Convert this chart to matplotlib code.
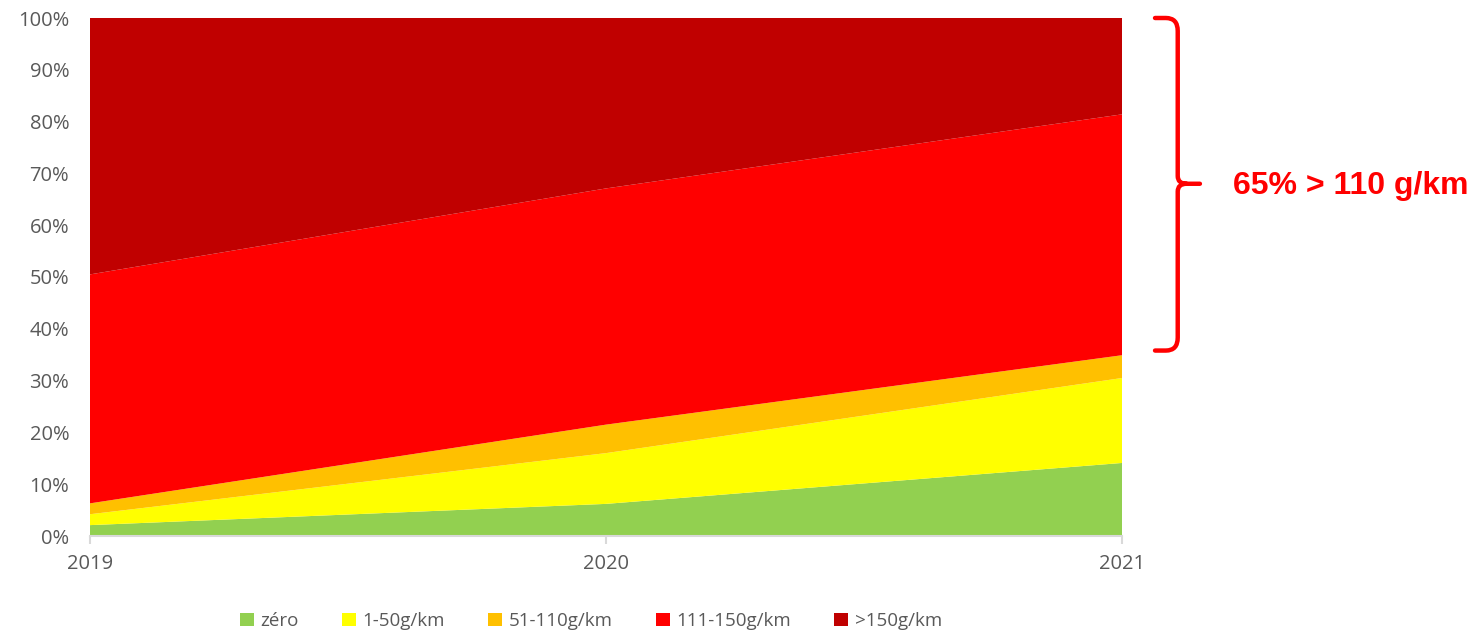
import numpy as np
import matplotlib
matplotlib.use("Agg")
import matplotlib.pyplot as plt
from matplotlib.path import Path
from matplotlib.patches import PathPatch, Patch

# data (share of sales, %)
years = [2019, 2020, 2021]
labels = ["zéro", "1-50g/km", "51-110g/km", "111-150g/km", ">150g/km"]
zero = [2.1, 6.2, 14.1]
g1_50 = [2.1, 9.8, 16.4]
g51_110 = [2.1, 5.5, 4.4]
g111_150 = [44.2, 45.6, 46.5]
g150 = [49.5, 32.9, 18.6]
colors = ["#92d050", "#ffff00", "#ffc000", "#ff0000", "#c00000"]
note = "65% > 110 g/km"

plt.rcParams['font.family'] = ['Open Sans', 'DejaVu Sans']
grey = "#595959"

fig = plt.figure(figsize=(14.83, 6.32), dpi=100)
ax = fig.add_axes([90 / 1483, 96 / 632, 1032 / 1483, 518 / 632])

ax.stackplot(years, zero, g1_50, g51_110, g111_150, g150, colors=colors, linewidth=0)
ax.set_xlim(2019, 2021)
ax.set_ylim(0, 100)
ax.set_xticks(years)
ax.set_xticklabels([str(y) for y in years])
ax.set_yticks(np.arange(0, 101, 10))
ax.set_yticklabels([f"{v}%" for v in range(0, 101, 10)])
ax.tick_params(axis="y", length=0, pad=15, labelsize=14.5, labelcolor=grey)
ax.tick_params(axis="x", length=6, color="#d9d9d9", width=1.5, pad=7, labelsize=14.5, labelcolor=grey)
for s in ["top", "right", "left"]:
    ax.spines[s].set_visible(False)
ax.spines["bottom"].set_color("#d9d9d9")
ax.spines["bottom"].set_linewidth(1.5)

# curly bracket on the right
x0, x1, xm, xt = 2021.064, 2021.108, 2021.125, 2021.151
top, bot, mid = 100, 35.8, 68.0
verts = [(x0, top), (2021.085, top), (x1, top), (x1, top - 2.5),
         (x1, mid + 1.5), (x1, mid), (xm, mid), (xt, mid),
         (xm, mid), (x1, mid), (x1, mid - 1.5),
         (x1, bot + 2.5), (x1, bot), (2021.085, bot), (x0, bot)]
codes = [Path.MOVETO, Path.LINETO, Path.CURVE3, Path.CURVE3,
         Path.LINETO, Path.CURVE3, Path.CURVE3, Path.LINETO,
         Path.MOVETO, Path.CURVE3, Path.CURVE3,
         Path.LINETO, Path.CURVE3, Path.CURVE3, Path.LINETO]
brace = PathPatch(Path(verts, codes), facecolor="none", edgecolor="#ff0000",
                  lw=3.2, capstyle="round", joinstyle="round", clip_on=False)
ax.add_patch(brace)

fig.text(1233 / 1483, (632 - 186) / 632, note, color="#ff0000", fontsize=23,
         fontweight="bold", family="Liberation Sans", va="center", ha="left")

handles = [Patch(facecolor=c, edgecolor="none") for c in colors]
leg = fig.legend(handles, labels, loc="center", bbox_to_anchor=(591 / 1483, 11 / 632),
                 ncol=5, frameon=False, fontsize=13.5, handlelength=0.75, handleheight=0.75,
                 handletextpad=0.35, columnspacing=2.3)
for t in leg.get_texts():
    t.set_color(grey)

fig.savefig("out.png", dpi=100)
